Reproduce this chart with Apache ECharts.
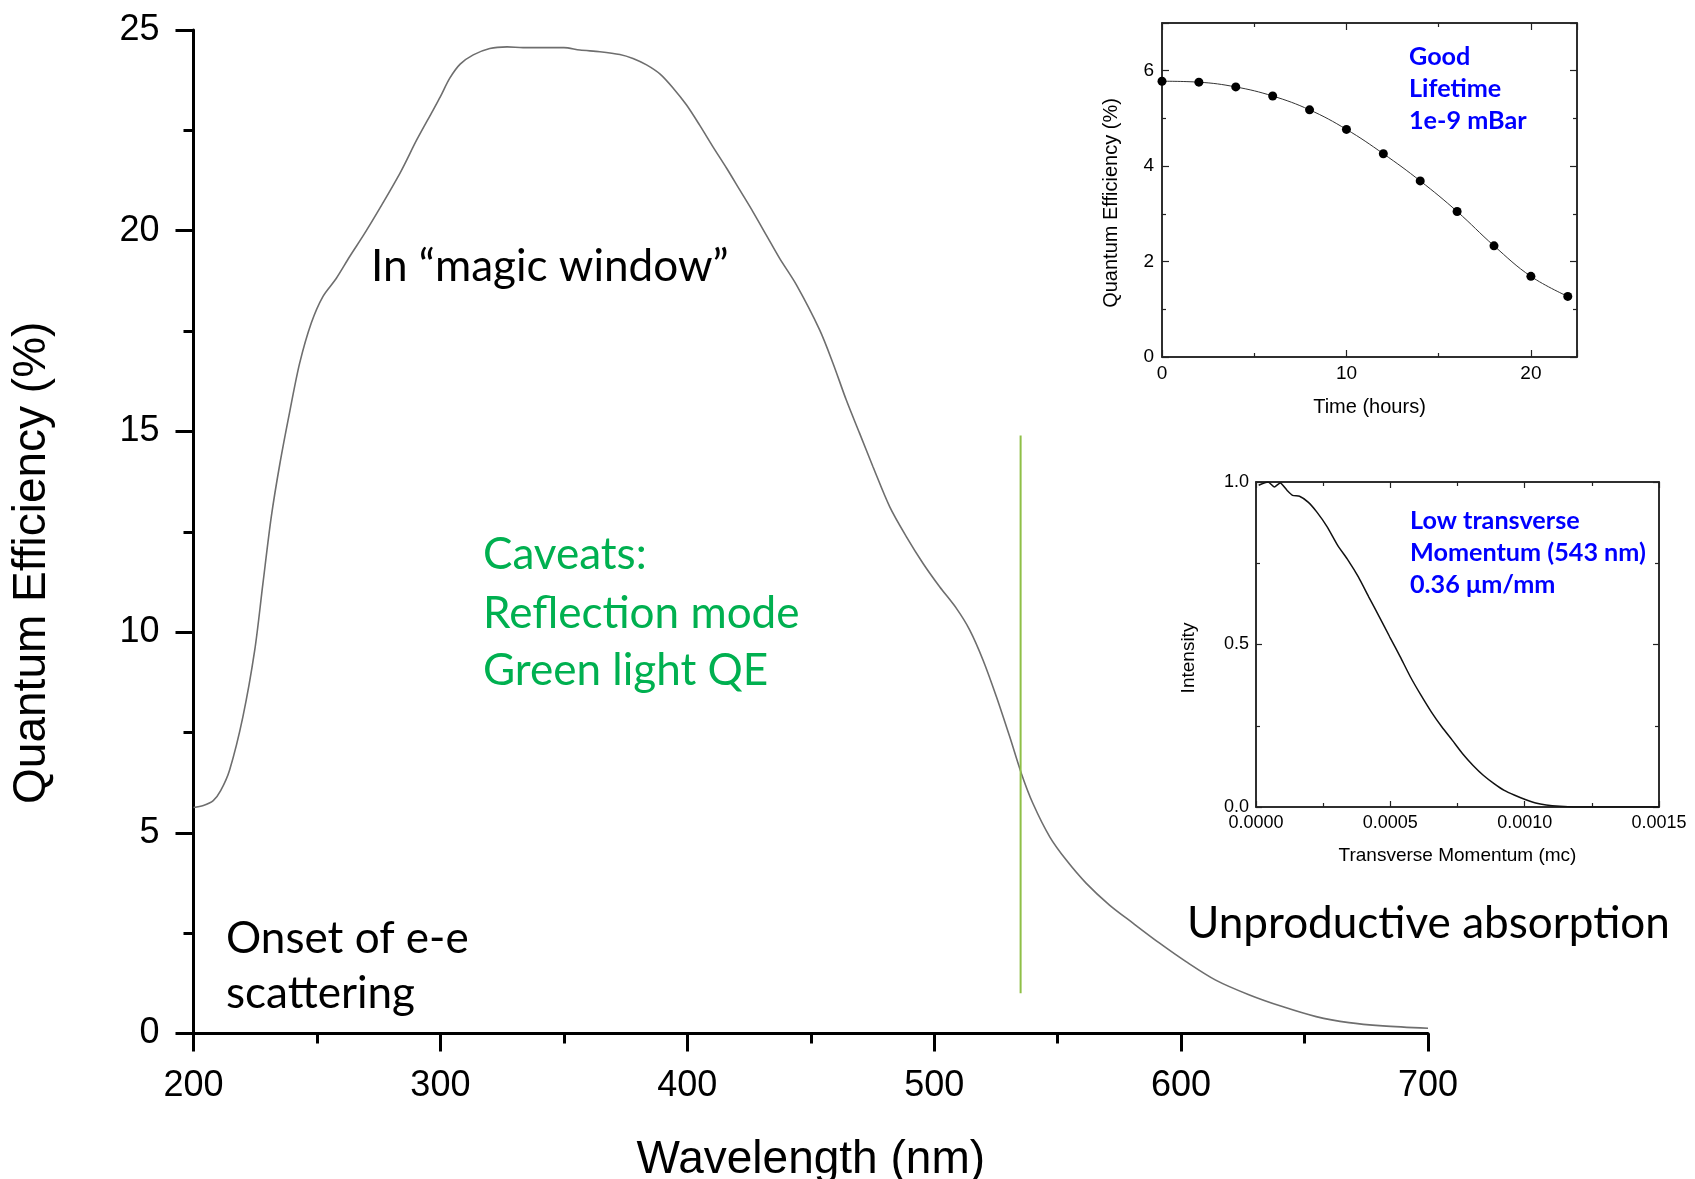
<!DOCTYPE html>
<html>
<head>
<meta charset="utf-8">
<script src="https://cdn.jsdelivr.net/npm/echarts@6/dist/echarts.min.js"></script>
<style>
html,body{margin:0;padding:0;background:#ffffff;}
#chart{width:1695px;height:1179px;}
</style>
</head>
<body>
<div id="chart"></div>
<script>
// ---------- Main chart: QE vs wavelength ----------
const qeWavelength = [200,204,208,211,214.6,220,224.8,228.1,231.5,235,239,243,247.7,252.4,257.8,263.2,270,283.6,290.4,297,300,303.8,308,313.3,320,327,333.5,340,350,356.5,364.6,372.7,378,383.5,389,394.3,399.7,405,410.4,416,421.3,426.6,432,437.4,444.2,453.6,459,464.4,469.8,475.2,482,488.7,495.5,502.2,509,514.4,519.8,525.2,530.6,535.3,540,546.8,553.5,561.6,571,580.5,591.3,602,614,627.7,641,654.7,668,681.7,700];
const qePercent = [5.63,5.68,5.8,6.05,6.56,7.89,9.55,11.2,12.87,14.2,15.5,16.7,17.7,18.36,18.81,19.35,20.0,21.43,22.26,23.0,23.34,23.8,24.15,24.38,24.54,24.58,24.56,24.56,24.56,24.5,24.46,24.39,24.29,24.13,23.9,23.55,23.13,22.63,22.09,21.55,21.01,20.47,19.89,19.31,18.65,17.53,16.7,15.78,14.95,14.12,13.12,12.38,11.71,11.13,10.59,10.05,9.3,8.39,7.39,6.48,5.73,4.9,4.32,3.74,3.2,2.75,2.25,1.79,1.33,0.96,0.67,0.42,0.27,0.19,0.13];
// green cut-off marker (wavelength, QE range)
const cutoffWavelength = [535, 535];
const cutoffQE = [1.0, 14.9];

// ---------- Inset 1: lifetime ----------
const lifeHours = [0,2,4,6,8,10,12,14,16,18,20,22];
const lifeQE = [5.78,5.76,5.66,5.47,5.18,4.77,4.26,3.69,3.05,2.33,1.69,1.27];

// ---------- Inset 2: transverse momentum ----------
const momentumMc = [0.00001,0.000045,0.000068,0.00009,0.000116,0.000136,0.000162,0.000194,0.000226,0.000265,0.000304,0.000343,0.000381,0.00042,0.000459,0.000498,0.000537,0.000575,0.000614,0.000653,0.000692,0.000731,0.000769,0.000808,0.000847,0.000886,0.000924,0.000963,0.001002,0.001041,0.00108,0.001131,0.001183,0.00129,0.0015];
const intensity = [0.99,1.0,0.985,0.997,0.974,0.959,0.956,0.938,0.908,0.862,0.805,0.759,0.708,0.646,0.585,0.523,0.462,0.40,0.344,0.292,0.246,0.205,0.164,0.128,0.097,0.072,0.051,0.036,0.023,0.012,0.006,0.002,0.0,0.0,0.0];

// ---------- Text ----------
const mainXName = 'Wavelength (nm)';
const mainYName = 'Quantum Efficiency (%)';
const inset1XName = 'Time (hours)';
const inset1YName = 'Quantum Efficiency (%)';
const inset2XName = 'Transverse Momentum (mc)';
const inset2YName = 'Intensity';
const magicText = ['In \u201cmagic window\u201d'];
const caveatText = ['Caveats:', 'Reflection mode', 'Green light QE'];
const onsetText = ['Onset of e-e', 'scattering'];
const absorbText = ['Unproductive absorption'];
const lifetimeNote = ['Good', 'Lifetime', '1e-9 mBar'];
const momentumNote = ['Low transverse', 'Momentum (543 nm)', '0.36 \u03bcm/mm'];

const zip = (a, b) => a.map((v, i) => [v, b[i]]);

// font sizing by measuring text width (Calibri substitute)
const mctx = document.createElement('canvas').getContext('2d');
function fitSize(text, family, weight, targetW) {
  mctx.font = weight + ' 100px ' + family;
  return 100 * targetW / mctx.measureText(text).width;
}
const bodyFont = 'Lato';
const bodySize = fitSize('Unproductive absorption', bodyFont, 'normal', 483);
const noteSize = fitSize('Momentum (543 nm)', bodyFont, 'bold', 236);

function textLines(lines, x, ys, color, size, weight) {
  return lines.map((t, i) => ({
    type: 'text', x: x, y: ys[i], z: 100,
    style: { text: t, fill: color, fontFamily: bodyFont, fontSize: size, fontWeight: weight,
             align: 'left', verticalAlign: 'middle' }
  }));
}

const AX = 'Liberation Sans, Arial, sans-serif';
const frame = '#222';

function insetAxis(opts) {
  return Object.assign({
    type: 'value',
    axisLine: { show: true, onZero: false, lineStyle: { color: frame, width: 1.5 } },
    axisTick: { show: true, inside: true, length: 7, lineStyle: { color: frame, width: 1.2 } },
    minorTick: { show: true, splitNumber: 2, length: 4, lineStyle: { color: frame, width: 1.2 } },
    splitLine: { show: false },
    minorSplitLine: { show: false },
    axisLabel: { show: false }
  }, opts);
}

const option = {
  animation: false,
  backgroundColor: '#ffffff',
  grid: [
    { left: 193.5, top: 30, width: 1234.5, height: 1003.5, outerBoundsMode: 'none', containLabel: false },
    { left: 1162, top: 23, width: 415, height: 334, show: true, borderColor: frame, borderWidth: 1.5, backgroundColor: 'rgba(0,0,0,0)', outerBoundsMode: 'none', containLabel: false },
    { left: 1256, top: 482, width: 403, height: 325, show: true, borderColor: frame, borderWidth: 1.5, backgroundColor: 'rgba(0,0,0,0)', outerBoundsMode: 'none', containLabel: false }
  ],
  xAxis: [
    {
      gridIndex: 0, type: 'value', min: 200, max: 700, interval: 100,
      axisLine: { show: true, onZero: false, lineStyle: { color: '#000', width: 3 } },
      axisTick: { show: true, inside: false, length: 18, lineStyle: { color: '#000', width: 3 } },
      minorTick: { show: true, splitNumber: 2, length: 10, lineStyle: { color: '#000', width: 3 } },
      splitLine: { show: false },
      axisLabel: { color: '#000', fontSize: 36, fontFamily: AX, margin: 35 },
      name: mainXName, nameLocation: 'middle', nameGap: 104,
      nameTextStyle: { color: '#000', fontSize: 46, fontFamily: AX }
    },
    insetAxis({
      gridIndex: 1, position: 'bottom', min: 0, max: 22.5, interval: 10,
      axisLabel: { show: true, color: '#000', fontSize: 19, fontFamily: AX, margin: 7, showMaxLabel: false },
      name: inset1XName, nameLocation: 'middle', nameGap: 40,
      nameTextStyle: { color: '#000', fontSize: 20, fontFamily: AX }
    }),
    insetAxis({ gridIndex: 1, position: 'top', min: 0, max: 22.5, interval: 10 }),
    insetAxis({
      gridIndex: 2, position: 'bottom', min: 0, max: 0.0015, interval: 0.0005,
      axisTick: { show: true, inside: true, length: 6, lineStyle: { color: frame, width: 1.2 } },
      axisLabel: { show: true, color: '#000', fontSize: 18, fontFamily: AX, margin: 7,
                   formatter: v => v.toFixed(4) },
      name: inset2XName, nameLocation: 'middle', nameGap: 39,
      nameTextStyle: { color: '#000', fontSize: 19, fontFamily: AX }
    }),
    insetAxis({ gridIndex: 2, position: 'top', min: 0, max: 0.0015, interval: 0.0005,
      axisTick: { show: true, inside: true, length: 6, lineStyle: { color: frame, width: 1.2 } } })
  ],
  yAxis: [
    {
      gridIndex: 0, type: 'value', min: 0, max: 25, interval: 5,
      axisLine: { show: true, onZero: false, lineStyle: { color: '#000', width: 3 } },
      axisTick: { show: true, inside: false, length: 18, lineStyle: { color: '#000', width: 3 } },
      minorTick: { show: true, splitNumber: 2, length: 10, lineStyle: { color: '#000', width: 3 } },
      splitLine: { show: false },
      axisLabel: { color: '#000', fontSize: 36, fontFamily: AX, margin: 34 },
      name: mainYName, nameLocation: 'middle', nameGap: 138,
      nameTextStyle: { color: '#000', fontSize: 46, fontFamily: AX, padding: [0, 62, 0, 0] }
    },
    insetAxis({
      gridIndex: 1, position: 'left', min: 0, max: 7, interval: 2,
      axisLabel: { show: true, color: '#000', fontSize: 19, fontFamily: AX, margin: 8, showMaxLabel: false },
      name: inset1YName, nameLocation: 'middle', nameGap: 41,
      nameTextStyle: { color: '#000', fontSize: 20, fontFamily: AX, padding: [0, 26, 0, 0] }
    }),
    insetAxis({ gridIndex: 1, position: 'right', min: 0, max: 7, interval: 2 }),
    insetAxis({
      gridIndex: 2, position: 'left', min: 0, max: 1, interval: 0.5,
      axisTick: { show: true, inside: true, length: 6, lineStyle: { color: frame, width: 1.2 } },
      axisLabel: { show: true, color: '#000', fontSize: 18, fontFamily: AX, margin: 7,
                   formatter: v => v.toFixed(1) },
      name: inset2YName, nameLocation: 'middle', nameGap: 58,
      nameTextStyle: { color: '#000', fontSize: 19, fontFamily: AX, padding: [0, 27, 0, 0] }
    }),
    insetAxis({ gridIndex: 2, position: 'right', min: 0, max: 1, interval: 0.5,
      axisTick: { show: true, inside: true, length: 6, lineStyle: { color: frame, width: 1.2 } } })
  ],
  series: [
    {
      type: 'line', xAxisIndex: 0, yAxisIndex: 0, data: zip(qeWavelength, qePercent),
      showSymbol: false, symbol: 'none', smooth: 0.3, silent: true,
      lineStyle: { color: '#6e6e6e', width: 1.6 }
    },
    {
      type: 'line', xAxisIndex: 0, yAxisIndex: 0, data: zip(cutoffWavelength, cutoffQE),
      symbol: 'none', silent: true,
      lineStyle: { color: '#8fbf47', width: 2 }
    },
    {
      type: 'line', xAxisIndex: 1, yAxisIndex: 1, data: zip(lifeHours, lifeQE),
      symbol: 'circle', symbolSize: 9, smooth: 0.4, silent: true,
      itemStyle: { color: '#000' },
      lineStyle: { color: '#333', width: 1 }
    },
    {
      type: 'line', xAxisIndex: 3, yAxisIndex: 3, data: zip(momentumMc, intensity),
      symbol: 'none', smooth: 0.2, silent: true,
      lineStyle: { color: '#111', width: 1.5 }
    }
  ],
  graphic: [].concat(
    textLines(magicText, 371, [267], '#000', bodySize, 'normal'),
    textLines(caveatText, 483, [555, 613.3, 671], '#00b050', bodySize, 'normal'),
    textLines(onsetText, 226, [938.5, 993.8], '#000', bodySize, 'normal'),
    textLines(absorbText, 1187, [923.3], '#000', bodySize, 'normal'),
    textLines(lifetimeNote, 1409, [56.7, 88.7, 120.8], '#0000ff', noteSize, 'bold'),
    textLines(momentumNote, 1410, [521, 553, 584.7], '#0000ff', noteSize, 'bold')
  )
};

const chart = echarts.init(document.getElementById('chart'), null, { renderer: 'canvas' });
chart.setOption(option);
</script>
</body>
</html>
